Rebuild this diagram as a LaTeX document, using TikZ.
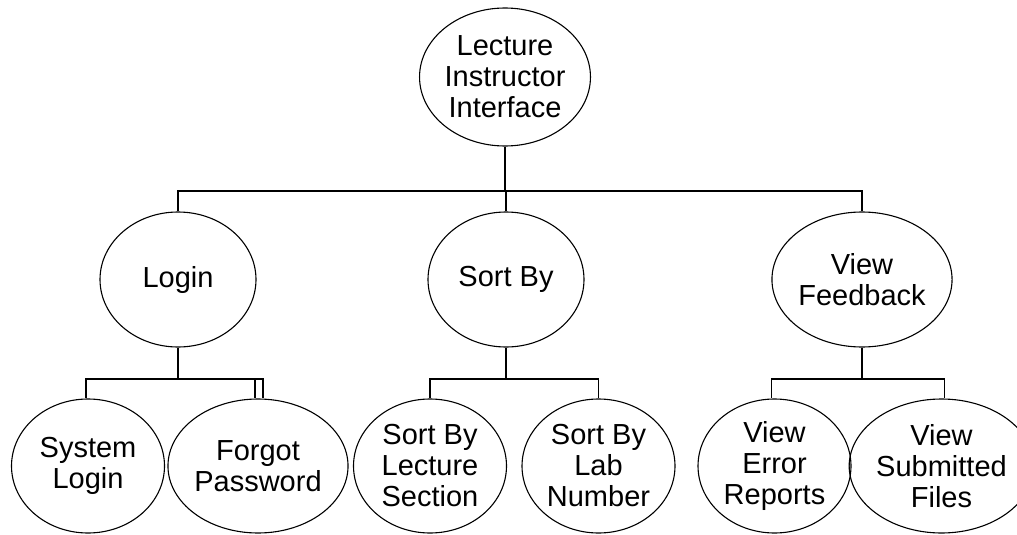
\documentclass[tikz,border=0pt]{standalone}
\usepackage{fontspec}
\setmainfont{Liberation Sans}
\usetikzlibrary{shapes.geometric}
\begin{document}
\begin{tikzpicture}[x=1pt,y=-1pt,
  bub/.style={ellipse,draw,line width=1.1pt,inner sep=0pt,align=center,
    font=\fontsize{29}{31}\selectfont},
  lvla/.style={bub,minimum width=156pt,minimum height=138pt},
  lvlb/.style={bub,minimum width=156pt,minimum height=135pt},
  lvlc/.style={bub,minimum width=153pt,minimum height=134pt},
  link/.style={line width=1.1pt}]
\useasboundingbox (0,0) rectangle (1017,535);
\node[lvla] (root) at (505,77) {Lecture\\Instructor\\Interface};
\node[lvlb] (login) at (178,279.5) {Login};
\node[lvlb] (sort) at (506,279.5) {Sort By};
\node[lvlb] (view) at (862,279.5) {View\\Feedback};
\node[lvlc] (sl) at (88,466) {System\\Login};
\node[lvlc] (fp) at (258,466) {Forgot\\Password};
\node[lvlc] (sls) at (430,466) {Sort By\\Lecture\\Section};
\node[lvlc] (sln) at (598.5,466) {Sort By\\Lab\\Number};
\node[lvlc] (ver) at (774.5,466) {View\\Error\\Reports};
\node[lvlc] (vsf) at (941.5,466) {View\\Submitted\\Files};
\coordinate (busa) at (0,191);
\coordinate (busb) at (0,379);
% level 1 to level 2
\draw[link] (root.south) -- (root.south |- busa);
\draw[link] (login.north) -- (login.north |- busa) -- (view.north |- busa) -- (view.north);
\draw[link] (sort.north) -- (sort.north |- busa);
% login children
\draw[link] (login.south) -- (login.south |- busb);
\draw[link] ([xshift=-2pt]sl.north) -- ([xshift=-2pt]sl.north |- busb) -- ([xshift=5pt]fp.north |- busb) -- ([xshift=5pt]fp.north);
\draw[link] ([xshift=-3pt]fp.north) -- ([xshift=-3pt]fp.north |- busb);
% sort children
\draw[link] (sort.south) -- (sort.south |- busb);
\draw[link] (sls.north) -- (sls.north |- busb) -- (sln.north |- busb) -- (sln.north);
% view children
\draw[link] (view.south) -- (view.south |- busb);
\draw[link] ([xshift=-3pt]ver.north) -- ([xshift=-3pt]ver.north |- busb) -- ([xshift=3pt]vsf.north |- busb) -- ([xshift=3pt]vsf.north);
\end{tikzpicture}
\end{document}
